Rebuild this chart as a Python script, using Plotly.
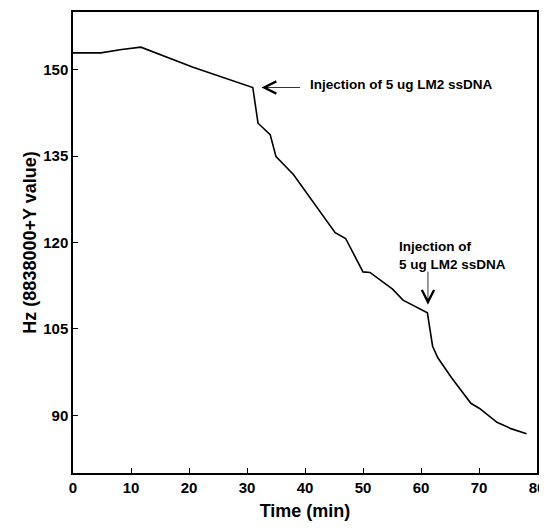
import plotly.graph_objects as go

time_min = [0, 4.8, 8.4, 11.7, 20.7, 31.0, 31.9, 34.0, 35.0, 38.0, 45.2, 47.0, 50.0, 51.2,
            55.1, 56.9, 61.1, 62.0, 62.9, 65.3, 68.6, 70.1, 73.1, 75.5, 78.2]
hz = [152.9, 152.9, 153.5, 153.9, 150.4, 146.9, 140.7, 138.7, 134.9, 131.8, 121.7, 120.7,
      114.9, 114.8, 111.9, 110.0, 107.8, 102.0, 100.0, 96.5, 92.1, 91.2, 88.8, 87.7, 86.8]

x_ticks = [0, 10, 20, 30, 40, 50, 60, 70, 80]
y_ticks = [90, 105, 120, 135, 150]

FONT = "Liberation Sans, Arial, sans-serif"

fig = go.Figure()
fig.add_trace(go.Scatter(x=time_min, y=hz, mode="lines",
                         line=dict(color="black", width=1.6), showlegend=False))

# arrows
fig.add_annotation(x=32.5, y=146.9, ax=39.4, ay=146.9, xref="x", yref="y", axref="x", ayref="y",
                   text="", showarrow=True, arrowhead=5, arrowsize=3.0, arrowwidth=0.8,
                   arrowcolor="black")
fig.add_annotation(x=61.2, y=109.2, ax=61.2, ay=115.2, xref="x", yref="y", axref="x", ayref="y",
                   text="", showarrow=True, arrowhead=5, arrowsize=3.0, arrowwidth=0.8,
                   arrowcolor="black")
# texts
fig.add_annotation(x=40.6, y=147.4, xref="x", yref="y", text="Injection of 5 ug LM2 ssDNA",
                   showarrow=False, xanchor="left", yanchor="middle",
                   font=dict(family=FONT, size=13.5, color="black", weight="bold"))
fig.add_annotation(x=55.8, y=117.7, xref="x", yref="y", text="Injection of<br>5 ug LM2 ssDNA",
                   showarrow=False, xanchor="left", yanchor="middle", align="left",
                   font=dict(family=FONT, size=13.5, color="black", weight="bold"))

axis_common = dict(showline=True, linecolor="black", linewidth=1.5, mirror=True,
                   ticks="inside", ticklen=5, tickwidth=1, tickcolor="black",
                   showgrid=False, zeroline=False, ticklabeloverflow="allow",
                   tickfont=dict(family=FONT, size=15, color="black", weight="bold"))

fig.update_xaxes(range=[0, 80], tickvals=x_ticks, ticktext=[str(v) for v in x_ticks],
                 title=dict(text="Time (min)",
                            font=dict(family=FONT, size=18, color="black", weight="bold"),
                            standoff=10),
                 **axis_common)
fig.update_yaxes(range=[80, 160], tickvals=y_ticks, ticktext=[str(v) for v in y_ticks],
                 title=dict(text="Hz (8838000+Y value)",
                            font=dict(family=FONT, size=18, color="black", weight="bold"),
                            standoff=2),
                 **axis_common)

fig.update_layout(width=539, height=521, margin=dict(l=65, r=10, t=4, b=56, autoexpand=False),
                  plot_bgcolor="white", paper_bgcolor="white",
                  font=dict(family=FONT, color="black"))

fig.write_html("out.html")
